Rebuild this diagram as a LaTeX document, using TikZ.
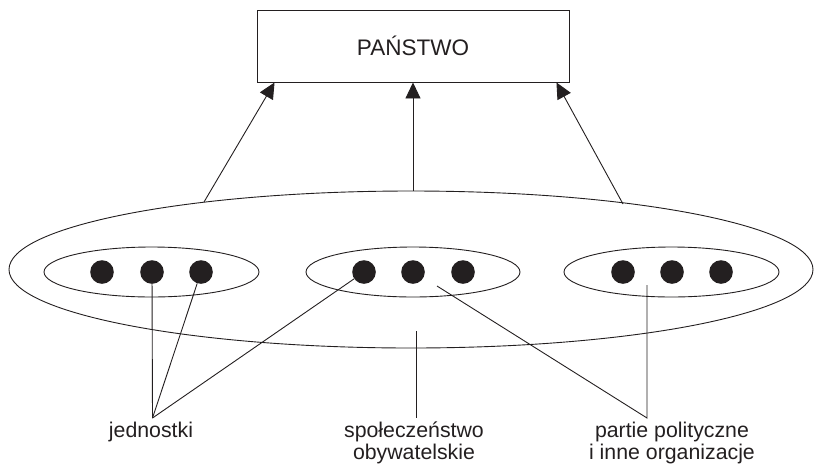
\documentclass[tikz,border=0pt]{standalone}
\usepackage{fontspec}
\setmainfont{Liberation Sans}
\usetikzlibrary{arrows.meta,shapes.geometric}
\definecolor{ink}{HTML}{231F20}
\begin{document}
\begin{tikzpicture}[x=1pt,y=-1pt,
  line/.style={draw=ink,line width=0.9pt},
  ring/.style={ellipse,draw=ink,line width=0.9pt,inner sep=0pt},
  dot/.style={circle,fill=ink,minimum size=23.6pt,inner sep=0pt},
  arr/.style={line,-{Triangle[length=16pt,width=15pt]}},
  lbl/.style={font=\fontsize{21.3}{22}\selectfont,text=ink,align=center,inner sep=0pt}]
\useasboundingbox (0,0) rectangle (814,464);

% the state
\node[draw=ink,line width=0.9pt,minimum width=312pt,minimum height=72pt,
      font=\fontsize{22.5}{24}\selectfont,text=ink] (state) at (413,46) {PAŃSTWO};

% civil society and its three groups
\node[ring,minimum width=804pt,minimum height=157pt] (society) at (411,269.5) {};
\node[ring,minimum width=215pt,minimum height=50pt] (grpA) at (151.5,272) {};
\node[ring,minimum width=214pt,minimum height=50pt] (grpB) at (413,272) {};
\node[ring,minimum width=215pt,minimum height=50pt] (grpC) at (671.5,272) {};

\node[dot] (a1) at (102,272) {};
\node[dot] (a2) at (152,272) {};
\node[dot] (a3) at (201,272) {};
\node[dot] (b1) at (364,272) {};
\node[dot] (b2) at (413,272) {};
\node[dot] (b3) at (463,272) {};
\node[dot] (c1) at (623,272) {};
\node[dot] (c2) at (672,272) {};
\node[dot] (c3) at (721,272) {};

% arrows up to the state
\coordinate (sL) at (204,202);
\coordinate (sR) at (623,204);
\coordinate (tL) at ([xshift=18pt]state.south west);
\coordinate (tR) at ([xshift=-13pt]state.south east);
\draw[arr] (sL) -- (tL);
\draw[arr] (state.south |- society.north) -- (state.south);
\draw[arr] (sR) -- (tR);

% labels (base anchor of a two-line label sits on its last line)
\node[lbl,anchor=base] (lblA) at (151,437) {jednostki};
\node[lbl,anchor=base] (lblB) at (414,459) {społeczeństwo\\obywatelskie};
\node[lbl,anchor=base] (lblC) at (672,459) {partie polityczne\\i inne organizacje};

% leader lines
\coordinate (jA) at (152.5,418);
\draw[line] (a2) -- (jA);
\draw[line] (a3) -- (jA);
\draw[line] (b1) -- (jA);

\coordinate (sTop) at (416,331);
\coordinate (sBot) at (416,418);
\draw[line] (sTop) -- (sBot);

\coordinate (pA) at (647,418);
\coordinate (pB) at (437,286);
\coordinate (pC) at (647,285);
\draw[line] (pB) -- (pA) -- (pC);
\end{tikzpicture}
\end{document}
